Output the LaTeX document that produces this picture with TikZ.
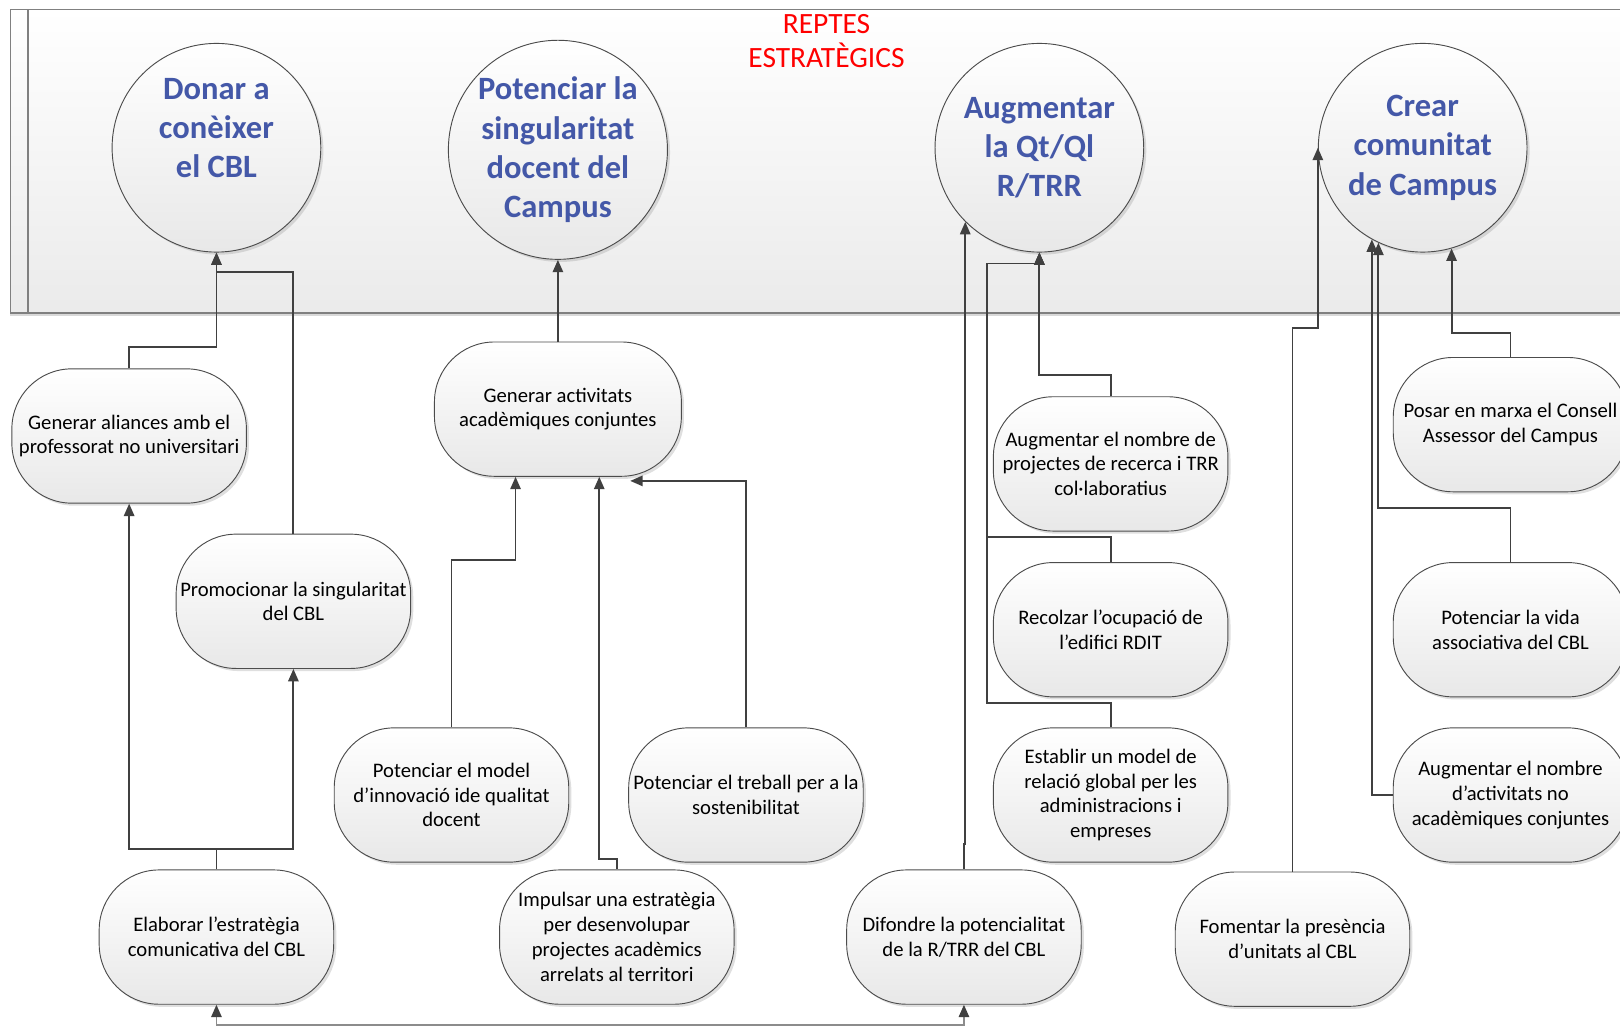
\documentclass[tikz,border=0pt]{standalone}
\usepackage{fontspec}
\setmainfont{Carlito}
\usepackage{tikz}
\usetikzlibrary{arrows.meta,shadows}
\definecolor{goalblue}{RGB}{68,88,168}
\tikzset{
  BaseNode/.style = {align=center, inner sep=1pt, text centered, draw=black!70, line width=0.9pt,
                     top color=white, bottom color=black!9,
                     drop shadow={opacity=0.25, shadow xshift=2.5pt, shadow yshift=-2.5pt}},
  GoalNode/.style = {BaseNode, circle, minimum size=202pt, text=goalblue,
                     font=\fontsize{31.5}{38}\selectfont\bfseries},
  TaskNode/.style = {BaseNode, rectangle, rounded corners=58pt, minimum width=227pt,
                     minimum height=130pt, font=\fontsize{20}{24}\selectfont},
  WideTaskNode/.style = {TaskNode, minimum width=239pt},
  TitleNode/.style = {align=center, text=red, font=\fontsize{28.5}{33}\selectfont},
  LaneBox/.style = {draw=black!50, line width=1.5pt, top color=white, bottom color=black!8,
                    drop shadow={opacity=0.3, shadow xshift=0pt, shadow yshift=-3pt}},
  Link/.style = {draw=black!75, line width=1.8pt},
  FeedLink/.style = {Link, draw=black!45, -{Triangle[length=12pt,width=10pt,color=black!75]}},
}

\begin{document}
\begin{tikzpicture}[x=1pt, y=-1pt, ->, >={Triangle[length=12pt,width=10pt]}]
    \useasboundingbox (0,0) rectangle (1568,993);
    \clip (0,0) rectangle (1568,993);
    % lane
    \draw [LaneBox, -] (10,9) rectangle (1610,303);
    \draw [draw=black!50, line width=1.5pt, -] (27,9) -- (27,303);
    \node [TitleNode] (reptes) at (800,40) {REPTES\\ESTRATÈGICS};

    % reptes
    \node [GoalNode, text depth=38pt] (donar) at (209.5,143) {Donar a\\conèixer\\el CBL};
    \node [GoalNode] (potsing) at (540,145) {Potenciar la\\singularitat\\docent del\\Campus};
    \node [GoalNode] (aug) at (1006,143) {Augmentar\\la Qt/Ql\\R/TRR};
    \node [GoalNode] (crear) at (1377,143) {Crear\\comunitat\\de Campus};

    % accions
    \node [TaskNode] (gal) at (125,422) {Generar aliances amb el\\professorat no universitari};
    \node [TaskNode] (prom) at (284,582) {Promocionar la singularitat\\del CBL};
    \node [TaskNode] (elab) at (209.5,907) {Elaborar l’estratègia\\comunicativa del CBL};
    \node [WideTaskNode] (gact) at (540,396) {Generar activitats\\acadèmiques conjuntes};
    \node [TaskNode] (pmod) at (437,769.5) {Potenciar el model\\d’innovació ide qualitat\\docent};
    \node [TaskNode] (ptreb) at (722,769.5) {Potenciar el treball per a la\\sostenibilitat};
    \node [TaskNode] (imp) at (597,907) {Impulsar una estratègia\\per desenvolupar\\projectes acadèmics\\arrelats al territori};
    \node [TaskNode] (dif) at (933,907) {Difondre la potencialitat\\de la R/TRR del CBL};
    \node [TaskNode] (aproj) at (1075,449) {Augmentar el nombre de\\projectes de recerca i TRR\\col·laboratius};
    \node [TaskNode] (rec) at (1075,609.5) {Recolzar l’ocupació de\\l’edifici RDIT};
    \node [TaskNode] (est) at (1075,769.5) {Establir un model de\\relació global per les\\administracions i\\empreses};
    \node [TaskNode] (fom) at (1251,909) {Fomentar la presència\\d’unitats al CBL};
    \node [TaskNode] (posar) at (1462,411) {Posar en marxa el Consell\\Assessor del Campus};
    \node [TaskNode] (pvida) at (1462,609.5) {Potenciar la vida\\associativa del CBL};
    \node [TaskNode] (aact) at (1462,769.5) {Augmentar el nombre\\d’activitats no\\acadèmiques conjuntes};

    \coordinate (feed) at (570,992);
    \coordinate (augbus) at (955,255);

    % connexions
    \draw [Link] (gal.north) -- ++(0,-21) -| (donar.south);
    \draw [Link] (prom.north) -- ++(0,-253) -| (donar.south);
    \draw [Link] (elab.north) -- ++(0,-20) -| (gal.south);
    \draw [Link] (elab.north) -- ++(0,-20) -| (prom.south);
    \draw [FeedLink] (feed) -| (elab.south);
    \draw [FeedLink] (feed) -| (dif.south);
    \draw [Link] (gact.north) -- (potsing.south);
    \draw [Link] (pmod.north) -- ++(0,-162) -| ([xshift=-41pt]gact.south);
    \draw [Link] (imp.north) -- ++(0,-10) -| ([xshift=40pt]gact.south);
    \draw [Link] (ptreb.north) |- ([xshift=70pt,yshift=-4pt]gact.south);
    \draw [Link] (dif.north) -- ++(0,-25) -| (aug.south west);
    \draw [Link] (aproj.north) -- ++(0,-21) -| (aug.south);
    \draw [Link] (rec.north) -- ++(0,-24) -| (augbus) -| (aug.south);
    \draw [Link] (est.north) -- ++(0,-24) -| (augbus) -| (aug.south);
    \draw [Link] (fom.north) -- ++(0,-526) -| (crear.west);
    \draw [Link] (posar.north) -- ++(0,-23) -| (crear.-74);
    \draw [Link] (pvida.north) -- ++(0,-52) -| (crear.-115);
    \draw [Link] (aact.west) -| (crear.-119);
\end{tikzpicture}
\end{document}
